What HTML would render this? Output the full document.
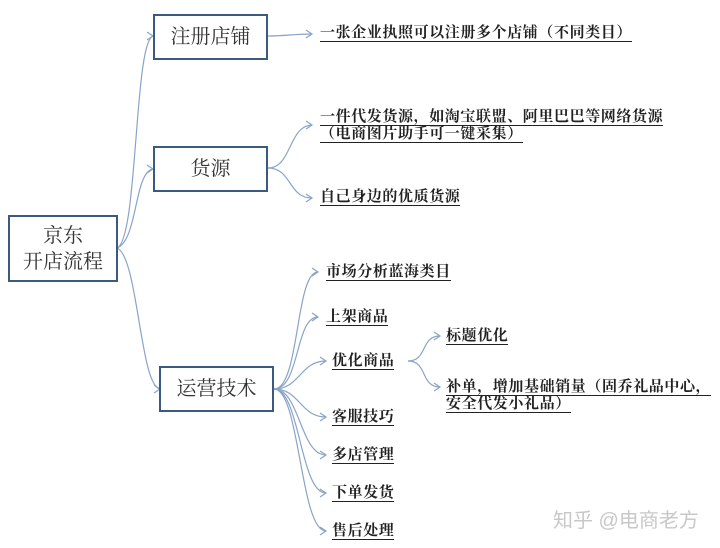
<!DOCTYPE html>
<html><head><meta charset="utf-8"><style>
body{margin:0;width:720px;height:548px;background:#fff;position:relative;overflow:hidden;font-family:"Liberation Serif","Noto Serif CJK SC",serif;}
.box{position:absolute;border:2.5px solid #3b5a80;box-sizing:border-box;display:flex;align-items:center;justify-content:center;text-align:center;color:#333;font-size:20px;line-height:26px;background:#fff;}
.t{position:absolute;font-size:15px;letter-spacing:0.6px;line-height:17px;font-weight:bold;color:#222;white-space:nowrap;}
.t span{border-bottom:1.3px solid #222;display:inline-block;line-height:16px;}
svg{position:absolute;left:0;top:0;}
</style></head><body>
<svg width="720" height="548" fill="none" stroke="#8aa4c8" stroke-width="1.2">
<path d="M117 248 C138 240,134 42,153 36"/><path d="M147 32 L153 36 L147 40"/>
<path d="M117 248 C138 240,134 172,153 169"/><path d="M147 165 L153 169 L147 173"/>
<path d="M117 248 C138 256,140 386,160 389"/><path d="M154 385 L160 389 L154 393"/>
<path d="M268 36 C285 36,295 34,312 34"/><path d="M306 30 L312 34 L306 38"/>
<path d="M268 168 C292 168,288 126,312 125"/><path d="M306 121 L312 125 L306 129"/>
<path d="M268 168 C292 168,288 198,312 198"/><path d="M306 194 L312 198 L306 202"/>
<path d="M274 389 C300 389,295 272,318 272"/><path d="M312 268 L318 272 L312 276"/>
<path d="M274 389 C300 389,295 317,318 317"/><path d="M312 313 L318 317 L312 321"/>
<path d="M274 389 C300 389,300 361,326 361"/><path d="M320 357 L326 361 L320 365"/>
<path d="M274 389 C300 389,300 417,326 417"/><path d="M320 413 L326 417 L320 421"/>
<path d="M274 389 C300 389,300 455,326 455"/><path d="M320 451 L326 455 L320 459"/>
<path d="M274 389 C300 389,300 493,326 493"/><path d="M320 489 L326 493 L320 497"/>
<path d="M274 389 C300 389,300 531,326 531"/><path d="M320 527 L326 531 L320 535"/>
<path d="M408 361 C428 361,420 336,440 336"/><path d="M434 332 L440 336 L434 340"/>
<path d="M408 361 C428 361,420 387,440 387"/><path d="M434 383 L440 387 L434 391"/>
</svg>
<div class="box" style="left:8px;top:215px;width:110px;height:67px;">京东<br>开店流程</div>
<div class="box" style="left:153px;top:14px;width:115px;height:46px;">注册店铺</div>
<div class="box" style="left:153px;top:146px;width:115px;height:46px;">货源</div>
<div class="box" style="left:159px;top:366px;width:115px;height:46px;">运营技术</div>
<div class="t" style="left:320px;top:25px;"><span>一张企业执照可以注册多个店铺（不同类目）</span></div>
<div class="t" style="left:320px;top:109px;"><span>一件代发货源，如淘宝联盟、阿里巴巴等网络货源</span><br><span>（电商图片助手可一键采集）</span></div>
<div class="t" style="left:320px;top:189px;"><span>自己身边的优质货源</span></div>
<div class="t" style="left:326px;top:264px;"><span>市场分析蓝海类目</span></div>
<div class="t" style="left:326px;top:309px;"><span>上架商品</span></div>
<div class="t" style="left:332px;top:353px;"><span>优化商品</span></div>
<div class="t" style="left:446px;top:328px;"><span>标题优化</span></div>
<div class="t" style="left:446px;top:379px;"><span>补单，增加基础销量（固乔礼品中心，</span><br><span>安全代发小礼品）</span></div>
<div class="t" style="left:332px;top:409px;"><span>客服技巧</span></div>
<div class="t" style="left:332px;top:447px;"><span>多店管理</span></div>
<div class="t" style="left:332px;top:485px;"><span>下单发货</span></div>
<div class="t" style="left:332px;top:523px;"><span>售后处理</span></div>
<div style="position:absolute;left:553px;top:504px;font-family:'Liberation Sans','Noto Sans CJK SC',sans-serif;font-size:20px;color:#c8c8c8;white-space:nowrap;">知乎 @电商老方</div>
</body></html>
